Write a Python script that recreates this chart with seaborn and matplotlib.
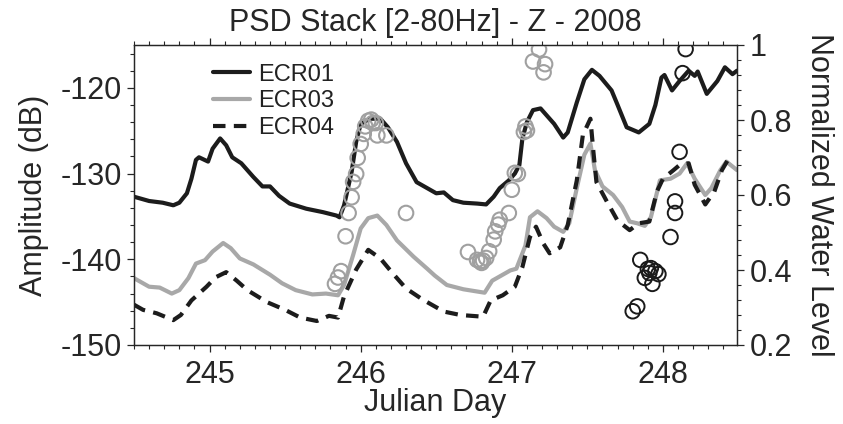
import matplotlib
matplotlib.use("Agg")
import matplotlib.pyplot as plt
from matplotlib.ticker import MultipleLocator
import pandas as pd
import seaborn as sns

# --- PSD stack amplitudes (dB) per station ---
ecr01_day = [244.50, 244.60, 244.69, 244.76, 244.80, 244.85, 244.88, 244.91, 244.93, 244.99,
             245.02, 245.07, 245.11, 245.15, 245.21, 245.29, 245.35, 245.40, 245.46, 245.53,
             245.64, 245.75, 245.84, 245.86, 245.89, 245.94, 245.97, 246.00, 246.06, 246.13,
             246.18, 246.24, 246.30, 246.37, 246.44, 246.50, 246.55, 246.61, 246.68, 246.77,
             246.83, 246.88, 246.92, 246.98, 247.02, 247.05, 247.07, 247.10, 247.14, 247.19,
             247.23, 247.28, 247.34, 247.37, 247.43, 247.48, 247.53, 247.58, 247.66, 247.70,
             247.76, 247.84, 247.91, 247.95, 247.99, 248.01, 248.06, 248.11, 248.17, 248.21,
             248.23, 248.29, 248.36, 248.41, 248.46, 248.49]
ecr01_db = [-132.7, -133.2, -133.4, -133.7, -133.4, -132.3, -130.6, -128.4, -128.1, -128.6,
            -127.1, -125.9, -126.7, -128.1, -128.8, -130.4, -131.5, -131.5, -132.6, -133.5,
            -134.1, -134.5, -134.9, -135.1, -133.7, -129.8, -126.3, -124.2, -123.6, -123.6,
            -124.6, -126.3, -128.8, -131.0, -131.7, -132.3, -132.2, -133.1, -133.4, -133.5,
            -133.6, -132.7, -131.7, -130.8, -130.0, -129.0, -125.9, -124.0, -122.6, -122.4,
            -123.2, -124.2, -125.8, -125.2, -121.7, -119.0, -117.9, -118.6, -120.3, -122.0,
            -124.6, -125.2, -124.2, -122.0, -118.8, -118.5, -120.3, -119.2, -118.0, -118.6,
            -118.1, -120.7, -119.2, -117.6, -118.4, -118.0]

ecr03_day = [244.50, 244.60, 244.67, 244.75, 244.80, 244.86, 244.91, 244.97, 245.02, 245.09,
             245.14, 245.20, 245.29, 245.40, 245.48, 245.57, 245.68, 245.77, 245.85, 245.89,
             245.95, 246.00, 246.05, 246.11, 246.17, 246.24, 246.35, 246.44, 246.49, 246.57,
             246.68, 246.82, 246.87, 246.92, 246.99, 247.03, 247.09, 247.12, 247.17, 247.23,
             247.28, 247.34, 247.38, 247.43, 247.48, 247.52, 247.55, 247.60, 247.67, 247.73,
             247.78, 247.83, 247.88, 247.92, 247.98, 248.05, 248.11, 248.16, 248.21, 248.28,
             248.32, 248.38, 248.42, 248.49]
ecr03_db = [-142.2, -143.2, -143.3, -144.0, -143.6, -142.2, -140.5, -140.1, -139.1, -138.1,
            -138.7, -139.9, -140.6, -141.8, -142.8, -143.6, -144.1, -144.0, -144.2, -143.0,
            -139.5, -136.4, -135.2, -134.9, -136.0, -137.8, -139.7, -141.1, -141.9, -143.0,
            -143.5, -143.9, -142.5, -142.0, -141.3, -141.1, -138.4, -135.1, -134.4, -135.2,
            -136.2, -136.8, -135.8, -131.7, -127.8, -126.5, -129.6, -131.5, -132.5, -133.9,
            -135.6, -135.8, -136.1, -135.1, -130.8, -130.6, -130.0, -128.8, -130.6, -132.5,
            -131.7, -129.6, -128.6, -129.6]

ecr04_day = [244.50, 244.56, 244.65, 244.76, 244.81, 244.88, 244.98, 245.04, 245.11, 245.18,
             245.25, 245.38, 245.50, 245.60, 245.71, 245.79, 245.85, 245.89, 245.97, 246.05,
             246.13, 246.21, 246.30, 246.41, 246.48, 246.55, 246.66, 246.81, 246.86, 246.94,
             247.02, 247.07, 247.12, 247.16, 247.21, 247.25, 247.32, 247.37, 247.43, 247.47,
             247.52, 247.54, 247.56, 247.63, 247.70, 247.78, 247.84, 247.91, 247.96, 248.00,
             248.07, 248.11, 248.17, 248.21, 248.28, 248.34, 248.39, 248.43]
ecr04_db = [-145.3, -145.9, -146.3, -147.1, -146.5, -144.8, -143.2, -142.1, -141.5, -142.5,
            -143.6, -145.0, -145.9, -146.8, -147.2, -146.6, -146.8, -144.3, -141.2, -138.9,
            -139.9, -141.6, -143.4, -144.7, -145.4, -146.1, -146.5, -146.7, -144.8, -144.2,
            -143.2, -140.9, -137.4, -136.2, -138.2, -139.3, -138.6, -136.0, -130.8, -125.5,
            -123.6, -127.5, -131.0, -133.3, -135.5, -136.6, -135.8, -135.6, -132.1, -130.6,
            -129.6, -129.0, -128.8, -131.3, -133.6, -132.1, -129.6, -128.4]

# --- Normalized water level observations ---
wl_gray_day = [245.90, 245.83, 245.85, 245.87, 245.92, 245.94, 245.95, 245.97, 245.98, 246.00,
               246.02, 246.03, 246.05, 246.07, 246.08, 246.10, 246.11, 246.17, 246.30,
               246.71, 246.77, 246.79, 246.80, 246.81, 246.83, 246.85, 246.88, 246.89, 246.91,
               246.92, 246.98, 247.00, 247.02, 247.04, 247.08, 247.09, 247.10,
               247.14, 247.18, 247.21, 247.22]
wl_gray = [0.490, 0.363, 0.380, 0.397, 0.552, 0.594, 0.635, 0.656, 0.699, 0.736,
           0.763, 0.783, 0.798, 0.801, 0.792, 0.792, 0.759, 0.759, 0.552,
           0.448, 0.427, 0.423, 0.419, 0.425, 0.432, 0.450, 0.481, 0.503, 0.521,
           0.534, 0.552, 0.614, 0.659, 0.656, 0.768, 0.783, 0.772,
           0.956, 0.988, 0.927, 0.949]

wl_black_day = [247.80, 247.83, 247.85, 247.88, 247.90, 247.91, 247.92, 247.93, 247.95, 247.97,
                248.05, 248.08, 248.08, 248.11, 248.13, 248.15]
wl_black = [0.290, 0.303, 0.427, 0.379, 0.403, 0.392, 0.405, 0.363, 0.397, 0.389,
            0.488, 0.552, 0.583, 0.715, 0.925, 0.989]

sns.set_theme(style="ticks")
plt.rcParams["font.family"] = ["Liberation Sans", "DejaVu Sans"]
plt.rcParams["axes.unicode_minus"] = False
plt.rcParams["axes.linewidth"] = 0.9
plt.rcParams["xtick.major.size"] = 5
plt.rcParams["ytick.major.size"] = 5
plt.rcParams["xtick.minor.size"] = 3
plt.rcParams["ytick.minor.size"] = 3
plt.rcParams["xtick.major.width"] = 0.9
plt.rcParams["ytick.major.width"] = 0.9
plt.rcParams["xtick.minor.width"] = 0.8
plt.rcParams["ytick.minor.width"] = 0.8

FS = 22
fig = plt.figure(figsize=(8.43, 4.24), dpi=100)
ax = fig.add_axes([134 / 843, 79 / 424, 603 / 843, 300 / 424])

lines = pd.concat([
    pd.DataFrame({"day": ecr01_day, "db": ecr01_db, "station": "ECR01"}),
    pd.DataFrame({"day": ecr03_day, "db": ecr03_db, "station": "ECR03"}),
    pd.DataFrame({"day": ecr04_day, "db": ecr04_db, "station": "ECR04"}),
])
palette = {"ECR01": "#1c1c1c", "ECR03": "#a8a8a8", "ECR04": "#1c1c1c"}
dashes = {"ECR01": "", "ECR03": "", "ECR04": (3.0, 2.0)}
sns.lineplot(data=lines, x="day", y="db", hue="station", style="station",
             palette=palette, dashes=dashes, linewidth=3.0, ax=ax, legend=True)

ax.set_xlim(244.5, 248.49)
ax.set_ylim(-150, -115)
ax.xaxis.set_major_locator(MultipleLocator(1))
ax.xaxis.set_minor_locator(MultipleLocator(0.1))
ax.yaxis.set_major_locator(MultipleLocator(10))
ax.yaxis.set_minor_locator(MultipleLocator(2))
ax.tick_params(axis="x", which="both", top=True, direction="out", labelsize=FS, pad=6)
ax.tick_params(axis="y", which="both", direction="out", labelsize=FS, pad=4)
ax.set_xlabel("Julian Day", fontsize=FS, labelpad=-2)
ax.set_ylabel("Amplitude (dB)", fontsize=FS, labelpad=8)
ax.set_title("PSD Stack [2-80Hz] - Z - 2008", fontsize=FS, pad=10)
for sp in ax.spines.values():
    sp.set_visible(True)
    sp.set_color("#222222")

leg = ax.legend(loc="upper left", bbox_to_anchor=(0.108, 0.985), frameon=False,
                fontsize=17, handlelength=1.55, handletextpad=0.35, labelspacing=0.2,
                borderaxespad=0.2)
for h in leg.get_lines():
    h.set_linewidth(3.0)
for t in leg.get_texts():
    t.set_color("#222222")

ax2 = ax.twinx()
sns.scatterplot(x=wl_gray_day, y=wl_gray, ax=ax2, s=110, marker="o",
                facecolors="none", edgecolor="#a0a0a0", linewidth=1.5, legend=False)
sns.scatterplot(x=wl_black_day, y=wl_black, ax=ax2, s=110, marker="o",
                facecolors="none", edgecolor="#1a1a1a", linewidth=1.4, legend=False)
ax2.set_ylim(0.2, 1.0)
ax2.yaxis.set_major_locator(MultipleLocator(0.2))
ax2.yaxis.set_minor_locator(MultipleLocator(0.04))
ax2.yaxis.set_major_formatter(plt.FuncFormatter(lambda v, p: "1" if abs(v - 1) < 1e-9 else f"{v:.1f}"))
ax2.tick_params(axis="y", which="both", direction="out", labelsize=FS, pad=4)
ax2.set_ylabel("Normalized Water Level", fontsize=FS, rotation=270, labelpad=30)
ax2.set_xlim(244.5, 248.49)

fig.savefig("out.png", dpi=100)
